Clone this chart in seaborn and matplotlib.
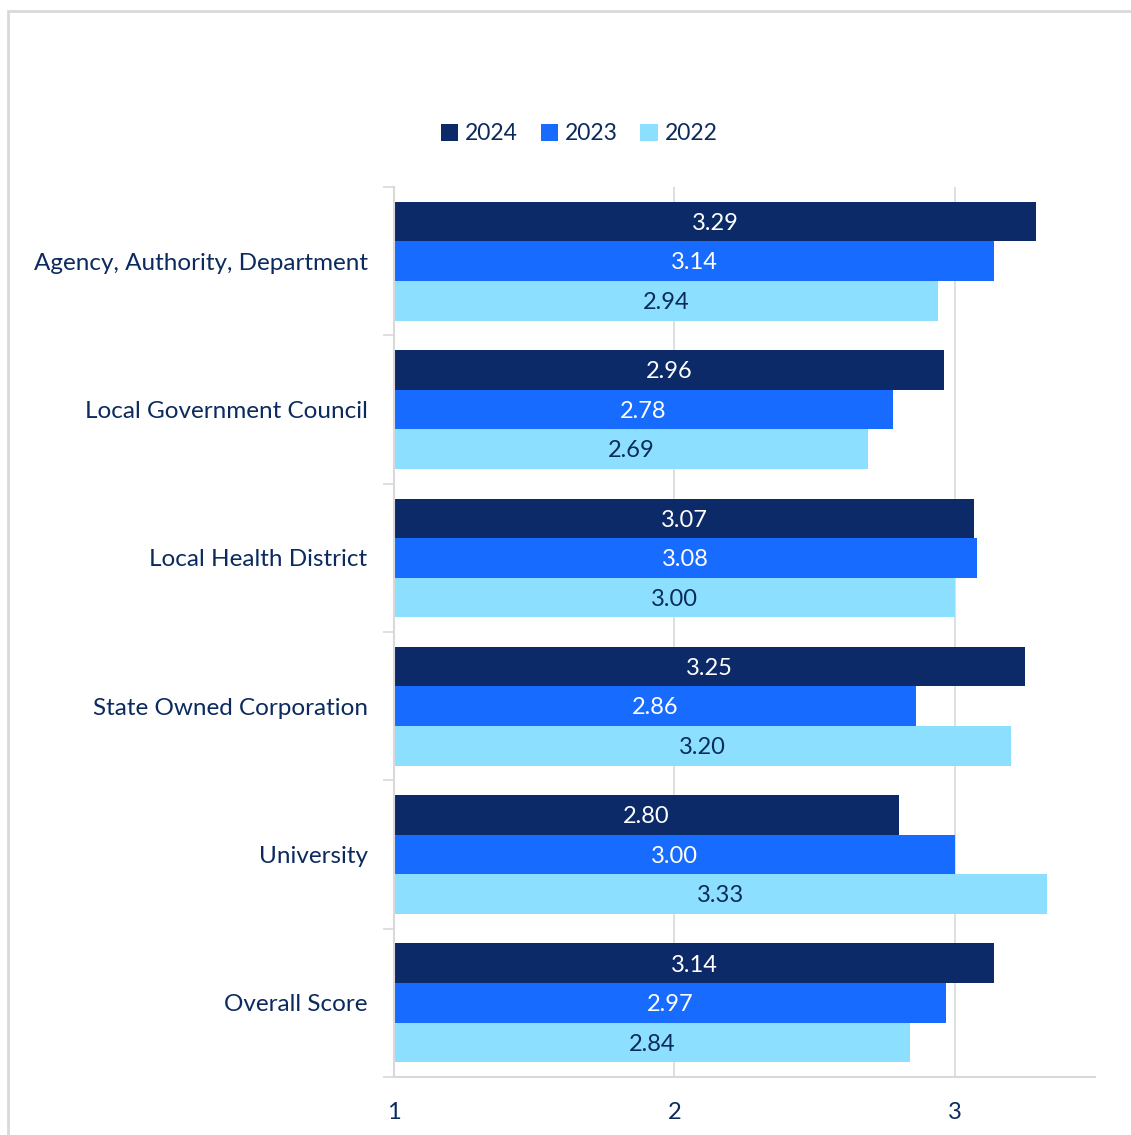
import matplotlib
matplotlib.use("Agg")
import matplotlib.pyplot as plt
import seaborn as sns
import pandas as pd
from matplotlib.patches import Rectangle, Patch
from matplotlib.ticker import FixedLocator

categories = [
    "Agency, Authority, Department",
    "Local Government Council",
    "Local Health District",
    "State Owned Corporation",
    "University",
    "Overall Score",
]
years = ["2024", "2023", "2022"]
scores_2024 = [3.29, 2.96, 3.07, 3.25, 2.80, 3.14]
scores_2023 = [3.14, 2.78, 3.08, 2.86, 3.00, 2.97]
scores_2022 = [2.94, 2.69, 3.00, 3.20, 3.33, 2.84]

colors = {"2024": "#0b2a67", "2023": "#176cff", "2022": "#8ddfff"}
label_colors = {"2024": "white", "2023": "white", "2022": "#0b2a5e"}
text_color = "#0b2a5e"
grid_color = "#d9d9d9"

rows = []
for yr, vals in zip(years, [scores_2024, scores_2023, scores_2022]):
    for cat, v in zip(categories, vals):
        rows.append({"Category": cat, "Year": yr, "Score": v})
df = pd.DataFrame(rows)

sns.set_theme(style="white")
plt.rcParams["font.family"] = ["Lato", "DejaVu Sans"]

W, H = 1131, 1135
fig = plt.figure(figsize=(W / 100, H / 100), dpi=100)
ax = fig.add_axes([394 / W, 1 - 1077 / H, (1095 - 394) / W, (1077 - 187) / H])

sns.barplot(data=df, y="Category", x="Score", hue="Year", hue_order=years,
            order=categories, palette=colors, orient="h", width=0.8,
            saturation=1, ax=ax, legend=False, linewidth=0)

ax.set_xlim(1, 3.5)
ax.set_ylim(len(categories) - 0.5, -0.5)

# value labels centred on the visible portion of each bar
for container, yr in zip(ax.containers, years):
    for patch in container:
        v = patch.get_width()
        yc = patch.get_y() + patch.get_height() / 2 + 0.012
        ax.text((1 + v) / 2, yc, f"{v:.2f}", ha="center", va="center",
                color=label_colors[yr], fontsize=17)

ax.set_xlabel("")
ax.set_ylabel("")
ax.set_xticks([1, 2, 3])
ax.set_xticklabels(["1", "2", "3"])
ax.xaxis.grid(True, color=grid_color, linewidth=1.2)
ax.set_axisbelow(True)

for side in ["top", "right"]:
    ax.spines[side].set_visible(False)
for side in ["left", "bottom"]:
    ax.spines[side].set_color(grid_color)
    ax.spines[side].set_linewidth(1.5)

ax.tick_params(axis="x", which="major", length=8, width=1.2, color=grid_color,
               labelsize=17, labelcolor=text_color, pad=10)
ax.tick_params(axis="y", which="major", length=0, labelsize=17.5,
               labelcolor=text_color, pad=19)
ax.yaxis.set_minor_locator(FixedLocator([i - 0.5 for i in range(len(categories) + 1)]))
ax.tick_params(axis="y", which="minor", length=8, width=1.2, color=grid_color, left=True)

handles = [Patch(facecolor=colors[y], edgecolor="none", label=y) for y in years]
fig.legend(handles=handles, loc="center", bbox_to_anchor=(579 / W, 1 - 134 / H),
           ncol=3, frameon=False, fontsize=16.5, handlelength=0.75, handleheight=0.75,
           handletextpad=0.3, columnspacing=1.0, labelcolor=text_color)

fig.patches.append(Rectangle((8 / W, -0.1), 1.2, 1 - 11 / H + 0.1,
                             transform=fig.transFigure, fill=False,
                             edgecolor=grid_color, linewidth=2))

fig.savefig("out.png", dpi=100, facecolor="white")
